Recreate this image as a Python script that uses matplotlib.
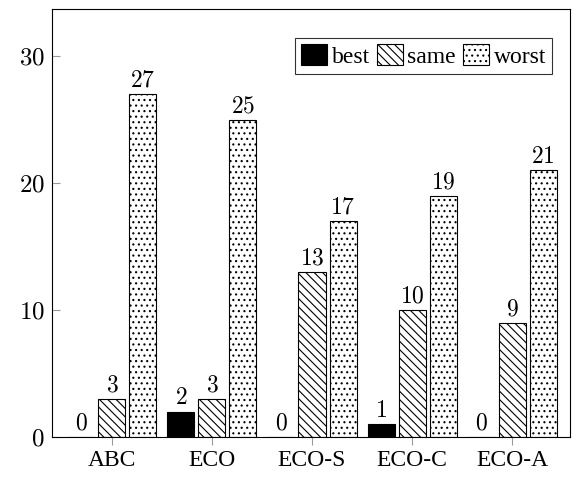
import numpy as np
import matplotlib
matplotlib.use("Agg")
import matplotlib.pyplot as plt

plt.rcParams['font.family'] = ['Liberation Serif', 'DejaVu Serif']
plt.rcParams['mathtext.fontset'] = 'cm'
plt.rcParams['hatch.linewidth'] = 0.8

methods = ['ABC', 'ECO', 'ECO-S', 'ECO-C', 'ECO-A']
best = [0, 2, 0, 1, 0]
same = [3, 3, 13, 10, 9]
worst = [27, 25, 17, 19, 21]

fig = plt.figure(figsize=(5.77, 4.83), dpi=100)
ax = fig.add_axes([0.090, 0.095, 0.898, 0.886])

x = np.arange(len(methods))
w = 0.27
off = 0.31
b1 = ax.bar(x - off, best, w, color='black', edgecolor='black', linewidth=0.8, label='best')
b2 = ax.bar(x, same, w, color='white', edgecolor='black', hatch='\\\\\\\\', linewidth=0.8, label='same')
b3 = ax.bar(x + off, worst, w, color='white', edgecolor='black', hatch='...', linewidth=0.8, label='worst')

for bars, vals in [(b1, best), (b2, same), (b3, worst)]:
    for r, v in zip(bars, vals):
        ax.text(r.get_x() + r.get_width() / 2, v + 0.2, r'$%d$' % v,
                ha='center', va='bottom', fontsize=17)

ax.set_xlim(-0.6, 4.58)
ax.set_ylim(0, 33.7)
ax.set_xticks(x)
ax.set_xticklabels(methods, fontsize=17)
ax.set_yticks([0, 10, 20, 30])
ax.set_yticklabels([r'$0$', r'$10$', r'$20$', r'$30$'], fontsize=18)
ax.tick_params(axis='y', direction='in', length=6, color='#999999', pad=5)
ax.tick_params(axis='x', direction='out', length=6, color='#999999', pad=3)
for s in ax.spines.values():
    s.set_linewidth(0.8)

leg = ax.legend(loc='upper right', ncol=3, fontsize=17, frameon=True, fancybox=False,
                edgecolor='black', handlelength=1.1, handleheight=1.0,
                handletextpad=0.2, columnspacing=0.3, borderpad=0.25,
                bbox_to_anchor=(0.988, 0.96))
leg.get_frame().set_linewidth(0.8)

fig.savefig('out.png', dpi=100)
